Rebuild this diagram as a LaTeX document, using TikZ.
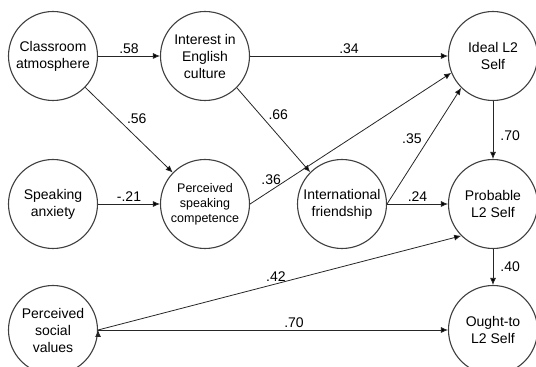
\documentclass[tikz,border=0pt]{standalone}
\usepackage{fontspec}
\setmainfont{Liberation Sans}
\usetikzlibrary{arrows.meta}

\begin{document}
\begin{tikzpicture}
  [x=1pt,y=1pt,
   latent/.style={circle, draw=black!75, line width=1.1pt, fill=white,
     minimum size=89pt, inner sep=0pt, align=center,
     font=\fontsize{14}{17}\selectfont},
   coef/.style={font=\fontsize{14}{17}\selectfont, inner sep=2pt},
   effect/.style={draw=black!85, line width=0.8pt, -{Latex[length=7pt,width=6pt]}}]
  \useasboundingbox (0,0) rectangle (536,367);

  \node [latent] (CA) at (53,311) {Classroom\\atmosphere};
  \node [latent] (IEC) at (205,311) {Interest in\\English\\culture};
  \node [latent] (ILS) at (493,311) {Ideal L2\\Self};

  \node [latent] (SA) at (53,163) {Speaking\\anxiety};
  \node [latent, font=\fontsize{12.5}{15}\selectfont] (PSC) at (205,163) {Perceived\\speaking\\competence};
  \node [latent] (IF) at (342,163) {International\\friendship};
  \node [latent] (PLS) at (493,163) {Probable\\L2 Self};

  \node [latent] (PSV) at (53,37) {Perceived\\social\\values};
  \node [latent] (OLS) at (493,37) {Ought-to\\L2 Self};

  \path [effect]
  (CA) edge node [coef, above] {.58} (IEC)
  (IEC) edge node [coef, above] {.34} (ILS)
  (CA) edge node [coef, pos=.45, above right] {.56} (PSC)
  (IEC.south east) edge node [coef, pos=.4, above right] {.66} (IF.north west)
  (SA) edge node [coef, above] {-.21} (PSC)
  (PSC.east) edge node [coef, pos=.13, above, xshift=-5pt] {.36} (ILS.202)
  (IF.east) edge node [coef, pos=.5, above left] {.35} (ILS.south west)
  (IF) edge node [coef, above] {.24} (PLS)
  (ILS) edge node [coef, pos=.6, right=5pt] {.70} (PLS)
  (PLS) edge node [coef, right=5pt] {.40} (OLS)
  (PSV.east) edge node [coef, pos=.49, above] {.42} (PLS.south west)
  (PSV) edge node [coef, pos=.56, above] {.70} (OLS);

\end{tikzpicture}
\end{document}
